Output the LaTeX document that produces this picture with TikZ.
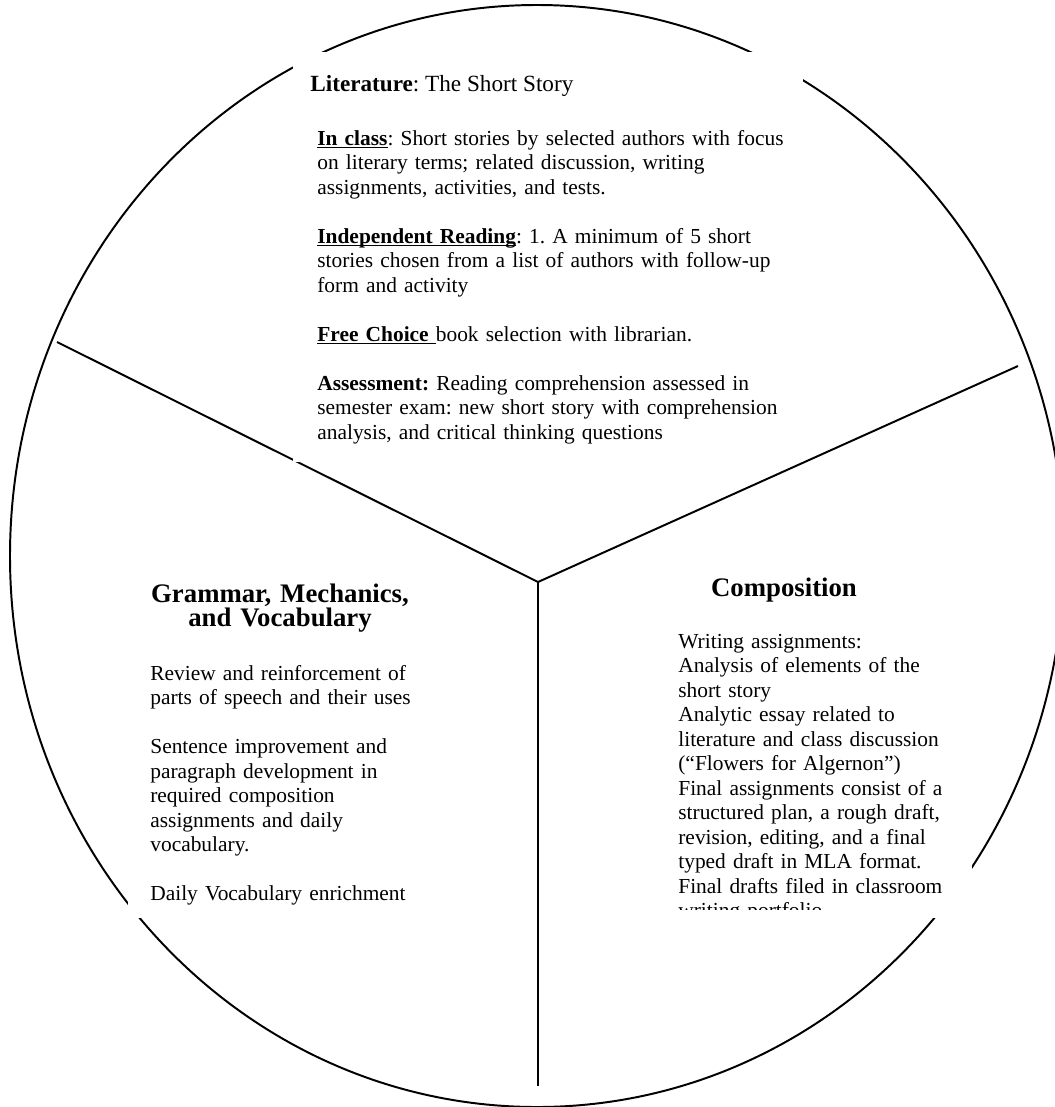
\documentclass[tikz,border=0pt]{standalone}
\usepackage{fontspec}
\setmainfont{Liberation Serif}
\newcommand{\ulword}[1]{\leavevmode\setbox0\hbox{#1}\rlap{\rule[-1.6pt]{\wd0}{0.6pt}}\box0}
\tikzstyle{rim} = [line width=1.1pt, draw=black]
\tikzstyle{coverbox} = [fill=white, draw=none]
\tikzstyle{bodytext} = [anchor=base west, align=left, inner sep=0pt, font=\fontsize{12}{13.75}\selectfont\frenchspacing]
\tikzstyle{headtext} = [anchor=base, align=center, inner sep=0pt, font=\fontsize{15}{13.8}\selectfont\bfseries]

\begin{document}
\begin{tikzpicture}[x=0.0197cm, y=-0.0197cm]
	\useasboundingbox (0,0) rectangle (1055,1107);
	\coordinate (hub) at (538,582);
	\coordinate (lend) at (57,342);
	\coordinate (rend) at (1018,366);
	\coordinate (bend) at (538,1086);
	\draw[rim] (537,556) ellipse [x radius=527, y radius=551];
	\draw[rim] (lend) -- (hub) -- (rend);
	\draw[rim] (hub) -- (bend);
	% white text boxes laid over the circle
	\fill[coverbox] (293,52) rectangle (803,462);
	\fill[coverbox] (128,560) rectangle (430,918);
	\fill[coverbox] (660,560) rectangle (972,918);
	\node (littitle) [bodytext, font=\fontsize{13}{15}\selectfont\frenchspacing] at (310,91) {\textbf{Literature}: The Short Story};
	\node (litbody) [bodytext, text width=10.2cm] at (317,145) {\ulword{\textbf{In class}}: Short stories by selected authors with focus\\
		on literary terms; related discussion, writing\\
		assignments, activities, and tests.\\[13.75pt]
		\ulword{\textbf{Independent Reading}}: 1. A minimum of 5 short\\
		stories chosen from a list of authors with follow-up\\
		form and activity\\[13.75pt]
		\ulword{\textbf{Free Choice }}book selection with librarian.\\[13.75pt]
		\textbf{Assessment:} Reading comprehension assessed in\\
		semester exam: new short story with comprehension\\
		analysis, and critical thinking questions};
	\node (gramhead) [headtext, text width=6cm] at (280,602) {Grammar, Mechanics,\\and Vocabulary};
	\node (grambody) [bodytext, text width=6cm] at (150,680) {Review and reinforcement of\\
		parts of speech and their uses\\[13.75pt]
		Sentence improvement and\\
		paragraph development in\\
		required composition\\
		assignments and daily\\
		vocabulary.\\[13.75pt]
		Daily Vocabulary enrichment};
	\node (comphead) [headtext, text width=5cm] at (784,596) {Composition};
	\begin{scope}
		\clip (660,560) rectangle (972,909);
		\node (compbody) [bodytext, text width=6cm] at (678,648) {Writing assignments:\\
			Analysis of elements of the\\
			short story\\
			Analytic essay related to\\
			literature and class discussion\\
			(``Flowers for Algernon'')\\
			Final assignments consist of a\\
			structured plan, a rough draft,\\
			revision, editing, and a final\\
			typed draft in MLA format.\\
			Final drafts filed in classroom\\
			writing portfolio};
	\end{scope}
\end{tikzpicture}
\end{document}
